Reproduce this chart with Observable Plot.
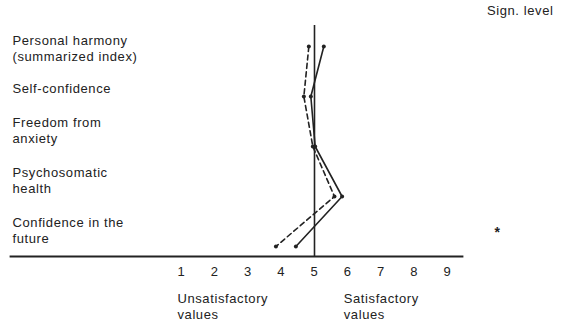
<!DOCTYPE html>
<html>
<head>
<meta charset="utf-8">
<script src="https://cdn.jsdelivr.net/npm/d3@7"></script>
<script src="https://cdn.jsdelivr.net/npm/@observablehq/plot@0.6"></script>
<style>
  html, body { margin: 0; padding: 0; background: #fff; }
</style>
</head>
<body>
<div id="chart"></div>
<script>
const categories = [
  "Personal harmony\n(summarized index)",
  "Self-confidence",
  "Freedom from\nanxiety",
  "Psychosomatic\nhealth",
  "Confidence in the\nfuture"
];
const solidValues = [5.28, 4.89, 5.02, 5.83, 4.44];
const dashedValues = [4.83, 4.68, 4.95, 5.60, 3.84];
const signLevels = ["", "", "", "", "*"];
const signTitle = "Sign. level";
const xTicks = [1, 2, 3, 4, 5, 6, 7, 8, 9];
const midValue = 5;
const sideLabels = ["Unsatisfactory\nvalues", "Satisfactory\nvalues"];
const sideAt = [1, 6];

const solid = categories.map((c, i) => ({category: c, value: solidValues[i]}));
const dashed = categories.map((c, i) => ({category: c, value: dashedValues[i]}));
const rows = categories.map((c, i) => ({category: c, sign: signLevels[i]}));
const sides = sideLabels.map((t, i) => ({text: t, x: sideAt[i]}));

const chart = Plot.plot({
  width: 561,
  height: 326,
  marginLeft: 10,
  marginRight: 99,
  marginTop: 25,
  marginBottom: 70,
  style: {
    fontFamily: "'Liberation Sans', Arial, Helvetica, sans-serif",
    fontSize: "13px",
    letterSpacing: "0.6px",
    color: "#222",
    background: "#fff",
    overflow: "visible"
  },
  x: {domain: [-4.14, 9.45], ticks: xTicks, tickSize: 0, tickPadding: 10, label: null},
  y: {domain: categories, type: "point", padding: 0, insetTop: 19, insetBottom: 9, axis: null},
  marks: [
    Plot.frame({anchor: "bottom", stroke: "#222", strokeWidth: 1.8}),
    Plot.ruleX([midValue], {stroke: "#222", strokeWidth: 1.6}),
    Plot.line(solid, {x: "value", y: "category", stroke: "#222", strokeWidth: 1.6}),
    Plot.line(dashed, {x: "value", y: "category", stroke: "#222", strokeWidth: 1.6, strokeDasharray: "5,3.5"}),
    Plot.dot(solid, {x: "value", y: "category", r: 2, fill: "#222"}),
    Plot.dot(dashed, {x: "value", y: "category", r: 2, fill: "#222"}),
    Plot.text(rows, {filter: (d, i) => i === 0, y: "category", text: "category", frameAnchor: "left", dx: 2, textAnchor: "start", lineAnchor: "middle", dy: 1, lineHeight: 1.27, fill: "#222"}),
    Plot.text(rows, {filter: (d, i) => i > 0, y: "category", text: "category", frameAnchor: "left", dx: 2, textAnchor: "start", lineAnchor: "bottom", dy: -3.5, lineHeight: 1.27, fill: "#222"}),
    Plot.text(rows, {y: "category", text: "sign", frameAnchor: "right", dx: 35, textAnchor: "middle", lineAnchor: "middle", dy: -14, fontWeight: "bold", fontSize: 14, fill: "#222"}),
    Plot.text([signTitle], {frameAnchor: "top-right", dx: 91, dy: -10.5, textAnchor: "end", lineAnchor: "bottom", fill: "#222"}),
    Plot.text(sides, {x: "x", text: "text", frameAnchor: "bottom", dx: -4, dy: 34, textAnchor: "start", lineAnchor: "top", lineHeight: 1.3, fill: "#222"})
  ]
});
document.getElementById("chart").appendChild(chart);
</script>
</body>
</html>
